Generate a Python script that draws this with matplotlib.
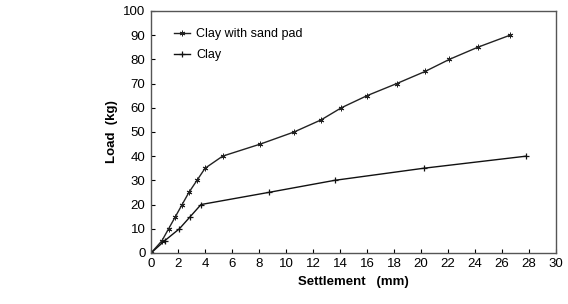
import matplotlib
matplotlib.use("Agg")
import matplotlib.pyplot as plt

plt.rcParams['font.family'] = ['Liberation Sans', 'DejaVu Sans']

# settlement (mm) vs load (kg)
sand_pad_x = [0, 0.8, 1.3, 1.8, 2.3, 2.8, 3.4, 4.0, 5.3, 8.1, 10.6, 12.6,
              14.1, 16.0, 18.2, 20.3, 22.1, 24.2, 26.6]
sand_pad_y = [0, 5, 10, 15, 20, 25, 30, 35, 40, 45, 50, 55,
              60, 65, 70, 75, 80, 85, 90]

clay_x = [0, 1.0, 2.1, 2.9, 3.7, 8.7, 13.6, 20.2, 27.8]
clay_y = [0, 5, 10, 15, 20, 25, 30, 35, 40]

x_ticks = list(range(0, 31, 2))
y_ticks = list(range(0, 101, 10))

fig = plt.figure(figsize=(5.68, 3.04), dpi=100)
ax = fig.add_axes([0.266, 0.168, 0.713, 0.796])

ax.plot(sand_pad_x, sand_pad_y, color='#222222', lw=1.0,
        marker=(6, 2, 0), ms=4, mew=0.7, label='Clay with sand pad')
ax.plot(clay_x, clay_y, color='#111111', lw=1.0,
        marker='+', ms=5, mew=0.9, label='Clay')

ax.set_xlim(0, 30)
ax.set_ylim(0, 100)
ax.set_xticks(x_ticks)
ax.set_yticks(y_ticks)
ax.tick_params(direction='in', length=3, labelsize=9.5, pad=4)
for s in ax.spines.values():
    s.set_color('#555555')
    s.set_linewidth(1.0)

ax.set_xlabel('Settlement   (mm)', fontsize=9.5, fontweight='bold')
ax.set_ylabel('Load  (kg)', fontsize=9.5, fontweight='bold')

ax.legend(loc='upper left', frameon=False, fontsize=9,
          handlelength=1.3, handletextpad=0.5, borderaxespad=0.6,
          labelspacing=0.7, bbox_to_anchor=(0.025, 0.98))

fig.savefig('out.png', dpi=100)
